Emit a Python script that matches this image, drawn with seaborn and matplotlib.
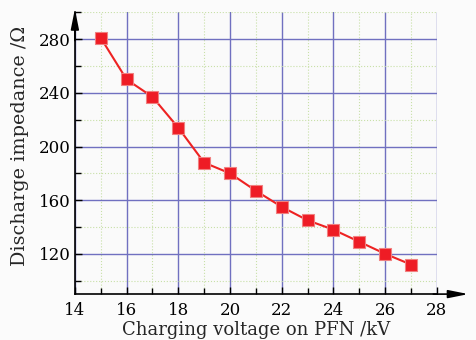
import matplotlib
matplotlib.use("Agg")
import matplotlib.pyplot as plt
import seaborn as sns
import pandas as pd
import numpy as np

voltage_kv = [15, 16, 17, 18, 19, 20, 21, 22, 23, 24, 25, 26, 27]
impedance_ohm = [281, 250, 237, 214, 188, 180, 167, 155, 145, 138, 129, 120, 112]
x_ticks = [14, 16, 18, 20, 22, 24, 26, 28]
y_ticks = [120, 160, 200, 240, 280]

df = pd.DataFrame({"v": voltage_kv, "z": impedance_ohm})

sns.set_theme(style="white")
plt.rcParams['font.family'] = ['DejaVu Serif']
plt.rcParams['mathtext.fontset'] = 'dejavuserif'

fig = plt.figure(figsize=(4.77, 3.4), dpi=100)
fig.patch.set_facecolor('#fbfbfb')
ax = fig.add_axes([0.157, 0.135, 0.759, 0.8285])
ax.set_facecolor('#fafafa')

sns.lineplot(data=df, x="v", y="z", ax=ax, color='#ee2222', linewidth=1.5,
             marker='s', markersize=8.5, markerfacecolor='#ee1c25',
             markeredgecolor='#f08080', markeredgewidth=0.8, zorder=5)

ax.set_xlim(14, 28)
ax.set_ylim(90, 300)
ax.set_xticks(x_ticks)
ax.set_yticks(y_ticks)
ax.set_xticks(np.arange(15, 28, 2), minor=True)
ax.set_yticks([100, 140, 180, 220, 260, 300], minor=True)

ax.grid(which='major', color='#7070c0', linewidth=1.0, linestyle='-')
ax.grid(which='minor', color='#c8e0a8', linewidth=0.8, linestyle=':')
ax.set_axisbelow(True)

for s in ['top', 'right']:
    ax.spines[s].set_visible(False)
for s in ['left', 'bottom']:
    ax.spines[s].set_color('black')
    ax.spines[s].set_linewidth(1.2)

ax.tick_params(which='both', direction='in', colors='black', labelsize=12,
               bottom=True, left=True)
ax.tick_params(which='major', length=5, width=1)
ax.tick_params(which='minor', length=4, width=1)
ax.tick_params(axis='x', pad=6)
ax.tick_params(axis='y', pad=3)

ax.set_xlabel("Charging voltage on PFN /kV", fontsize=13, labelpad=1)
ax.set_ylabel("Discharge impedance /Ω", fontsize=13.8)
ax.yaxis.set_label_coords(-0.128, 0.525)

# axis arrows
astyle = '-|>,head_length=1.0,head_width=0.2'
ax.annotate('', xy=(1.087, 0), xytext=(0.99, 0), xycoords='axes fraction',
            arrowprops=dict(arrowstyle=astyle, color='black', lw=1.2,
                            mutation_scale=12, shrinkA=0, shrinkB=0),
            annotation_clip=False)
ax.annotate('', xy=(0, 1.012), xytext=(0, 0.9), xycoords='axes fraction',
            arrowprops=dict(arrowstyle=astyle, color='black', lw=1.2,
                            mutation_scale=12, shrinkA=0, shrinkB=0),
            annotation_clip=False)

fig.savefig("out.png", dpi=100)
